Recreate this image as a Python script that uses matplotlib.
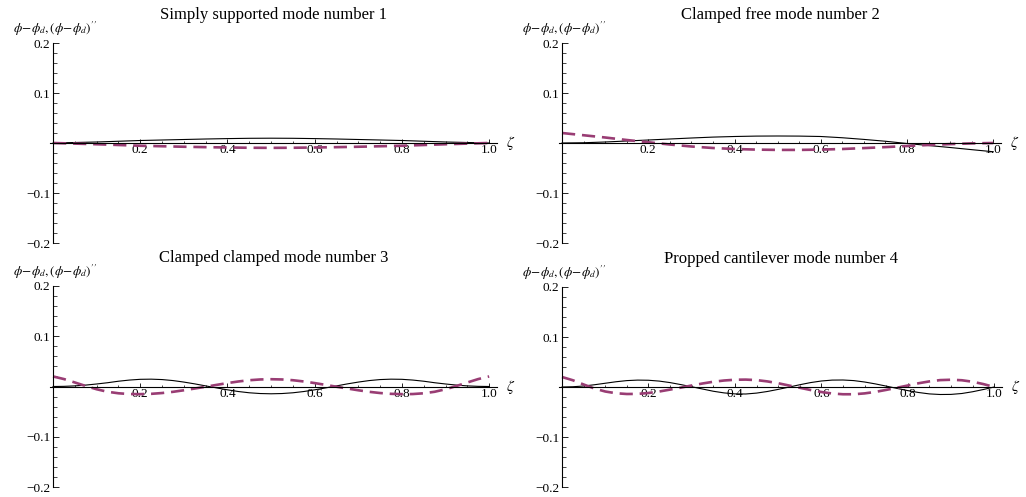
import matplotlib.pyplot as plt
import numpy as np
from matplotlib.ticker import FixedLocator, FuncFormatter, MultipleLocator

plt.rcParams["font.family"] = ["Liberation Serif", "DejaVu Serif"]
plt.rcParams["mathtext.fontset"] = "stix"

TITLES = [
    "Simply supported mode number 1",
    "Clamped free mode number 2",
    "Clamped clamped mode number 3",
    "Propped cantilever mode number 4",
]

# sample grids along the beam
ZETA_20 = np.linspace(0.0, 1.0, 21)
ZETA_40 = np.linspace(0.0, 1.0, 41)

# phi - phi_d (solid) and its second derivative (dashed)
SS1_PHI = [0.0, 0.001, 0.002, 0.0035, 0.005, 0.006, 0.007, 0.008, 0.0088, 0.0094, 0.0096,
           0.0094, 0.0088, 0.008, 0.007, 0.006, 0.005, 0.0035, 0.002, 0.001, 0.0]
SS1_D2 = [0.0, -0.0012, -0.0025, -0.004, -0.0055, -0.0065, -0.0075, -0.0083, -0.009, -0.0095, -0.0097,
          -0.0095, -0.009, -0.0083, -0.0075, -0.0065, -0.0055, -0.004, -0.0025, -0.0012, 0.0]

CF2_PHI = [0.0, 0.0005, 0.002, 0.004, 0.006, 0.008, 0.010, 0.0118, 0.013, 0.0138, 0.014,
           0.0138, 0.013, 0.0105, 0.0072, 0.0035, -0.001, -0.005, -0.009, -0.0133, -0.0175]
CF2_D2 = [0.020, 0.0155, 0.011, 0.006, 0.0015, -0.003, -0.007, -0.010, -0.012, -0.0132, -0.0138,
          -0.0138, -0.0132, -0.012, -0.0102, -0.0082, -0.006, -0.004, -0.0022, -0.0008, 0.0]

CC3_PHI = [0.0, 0.0003, 0.0012, 0.0028, 0.005, 0.0075, 0.0105, 0.0128, 0.0143, 0.0146, 0.0138,
           0.0118, 0.0088, 0.0052, 0.0012, -0.0028, -0.0066, -0.010, -0.0125, -0.014, -0.0145,
           -0.014, -0.0125, -0.010, -0.0066, -0.0028, 0.0012, 0.0052, 0.0088, 0.0118, 0.0138,
           0.0146, 0.0143, 0.0128, 0.0105, 0.0075, 0.005, 0.0028, 0.0012, 0.0003, 0.0]
CC3_D2 = [0.020, 0.0148, 0.008, 0.001, -0.0055, -0.0105, -0.0135, -0.015, -0.0152, -0.0146, -0.013,
          -0.0106, -0.0075, -0.004, -0.0005, 0.0032, 0.0068, 0.010, 0.0125, 0.014, 0.0145,
          0.014, 0.0125, 0.010, 0.0068, 0.0032, -0.0005, -0.004, -0.0075, -0.0106, -0.013,
          -0.0146, -0.0152, -0.015, -0.0135, -0.0105, -0.0055, 0.001, 0.008, 0.0148, 0.020]

PC4_PHI = [0.0, 0.0005, 0.002, 0.0045, 0.0075, 0.0105, 0.0128, 0.0138, 0.0135, 0.0118, 0.0088,
           0.0048, 0.0005, -0.004, -0.0085, -0.0118, -0.0138, -0.014, -0.0122, -0.009, -0.0048,
           -0.0002, 0.0045, 0.0088, 0.012, 0.0138, 0.014, 0.0128, 0.010, 0.0062, 0.0018,
           -0.0028, -0.0072, -0.011, -0.0138, -0.015, -0.0148, -0.013, -0.0095, -0.005, 0.0]
PC4_D2 = [0.020, 0.0135, 0.005, -0.003, -0.009, -0.0125, -0.014, -0.0138, -0.012, -0.009, -0.0052,
          -0.0012, 0.003, 0.007, 0.0105, 0.013, 0.0145, 0.0148, 0.0138, 0.0112, 0.0075,
          0.003, -0.0015, -0.006, -0.010, -0.013, -0.0145, -0.0145, -0.0128, -0.0098, -0.0058,
          -0.0015, 0.003, 0.0075, 0.0112, 0.0138, 0.0145, 0.0135, 0.0105, 0.0058, 0.0]

PANELS = [
    (ZETA_20, SS1_PHI, SS1_D2),
    (ZETA_20, CF2_PHI, CF2_D2),
    (ZETA_40, CC3_PHI, CC3_D2),
    (ZETA_40, PC4_PHI, PC4_D2),
]

# axes boxes in pixels: left, top, right, bottom
BOXES = [(50, 43, 497, 243), (559, 43, 1001, 243), (50, 286, 497, 487), (559, 287, 1002, 487)]

W, H = 1026, 497
DASH_COLOR = "#993d74"


def minus(v, pos=None):
    return f"{v:.1f}".replace("-", "\u2212")


fig = plt.figure(figsize=(W / 100, H / 100), dpi=100)

for title, (zeta, phi, d2), (l, t, r, b) in zip(TITLES, PANELS, BOXES):
    ax = fig.add_axes([l / W, 1 - b / H, (r - l) / W, (b - t) / H])
    ax.plot(zeta, phi, color="black", lw=0.8)
    ax.plot(zeta, d2, color=DASH_COLOR, lw=1.9, linestyle=(0, (5.0, 2.6)))

    ax.set_xlim(-0.007, 1.018)
    ax.set_ylim(-0.2, 0.2)
    for side in ("top", "right"):
        ax.spines[side].set_visible(False)
    ax.spines["left"].set_position(("data", 0))
    ax.spines["bottom"].set_position(("data", 0))
    for sp in ("left", "bottom"):
        ax.spines[sp].set_linewidth(0.8)

    ax.xaxis.set_major_locator(FixedLocator([0.2, 0.4, 0.6, 0.8, 1.0]))
    ax.xaxis.set_minor_locator(MultipleLocator(0.05))
    ax.yaxis.set_major_locator(FixedLocator([-0.2, -0.1, 0.1, 0.2]))
    ax.yaxis.set_minor_locator(MultipleLocator(0.02))
    ax.xaxis.set_major_formatter(FuncFormatter(minus))
    ax.yaxis.set_major_formatter(FuncFormatter(minus))

    ax.tick_params(axis="y", which="major", direction="in", length=4.5, width=0.6,
                   labelsize=9.5, pad=2)
    ax.tick_params(axis="y", which="minor", direction="in", length=2.6, width=0.5)
    ax.tick_params(axis="x", which="major", direction="in", length=3.0, width=0.6,
                   labelsize=9.5, pad=1)
    ax.tick_params(axis="x", which="minor", direction="in", length=1.8, width=0.5)

    ax.text(0.5, 1.14, title, transform=ax.transAxes, ha="center", va="center", fontsize=12)
    ax.text(0.005, 1.068, r"$\phi\!-\!\phi_d,(\phi\!-\!\phi_d)''$",
            transform=ax.get_xaxis_transform(), ha="center", va="center", fontsize=9.5)
    ax.annotate(r"$\zeta$", xy=(1.018, 0), xycoords="data", xytext=(10, 0),
                textcoords="offset points", ha="center", va="center", fontsize=11,
                annotation_clip=False)

fig.savefig("out.png", dpi=100)
